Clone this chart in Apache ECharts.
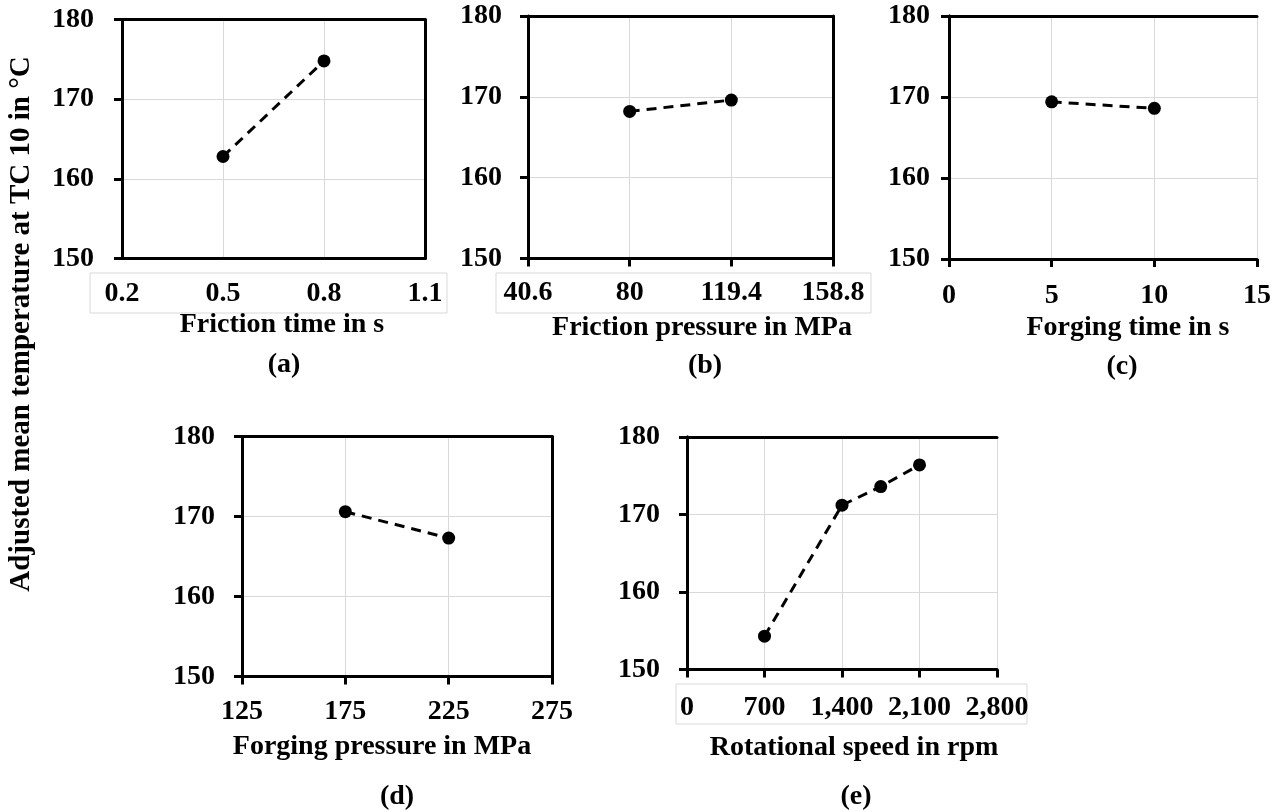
<!DOCTYPE html>
<html><head><meta charset="utf-8">
<script src="https://cdn.jsdelivr.net/npm/echarts@6/dist/echarts.min.js"></script>
<style>html,body{margin:0;padding:0;background:#fff}#c{width:1280px;height:812px}</style>
</head><body><div id="c"></div>
<script>
// ---- data ----
const frictionTimeTicks = ['0.2', '0.5', '0.8', '1.1'];
const frictionTime = ['0.5', '0.8'];
const tempA = [162.8, 174.8];

const frictionPressureTicks = ['40.6', '80', '119.4', '158.8'];
const frictionPressure = ['80', '119.4'];
const tempB = [168.2, 169.6];

const forgingTime = [5, 10];
const tempC = [169.4, 168.6];

const forgingPressureTicks = ['125', '175', '225', '275'];
const forgingPressure = ['175', '225'];
const tempD = [170.6, 167.3];

const rotSpeed = [700, 1400, 1750, 2100];
const tempE = [154.3, 171.2, 173.6, 176.4];

const xTitles = ['Friction time in s', 'Friction pressure in MPa', 'Forging time in s', 'Forging pressure in MPa', 'Rotational speed in rpm'];
const panelTags = ['(a)', '(b)', '(c)', '(d)', '(e)'];
const yTitle = 'Adjusted mean temperature at TC 10 in \u00B0C';

// ---- styling ----
const FF = '"Liberation Serif", "Times New Roman", serif';
const labelStyle = { color: '#000', fontFamily: FF, fontWeight: 'bold', fontSize: 28 };
const black3 = { color: '#000', width: 3 };
const gridLine = { show: true, lineStyle: { color: '#d9d9d9', width: 1 } };

const grids = [
  { left: 122, top: 19.5, width: 303, height: 239 },
  { left: 528, top: 16, width: 305, height: 242.5 },
  { left: 949, top: 16, width: 308, height: 243 },
  { left: 242, top: 436.5, width: 310, height: 240 },
  { left: 687, top: 437, width: 310, height: 232.5 }
].map(g => Object.assign({ show: false, outerBoundsMode: 'none', containLabel: false }, g));

const yMargins = [28, 26, 19, 27, 27];
const yAxes = [];
yMargins.forEach((m, i) => {
  yAxes.push({
    type: 'value', gridIndex: i, position: 'left', min: 150, max: 180, interval: 10,
    axisLine: { show: true, lineStyle: black3 },
    axisTick: { show: true, inside: false, length: 8, lineStyle: black3 },
    axisLabel: Object.assign({ margin: m }, labelStyle),
    splitLine: gridLine, z: 3
  });
});
// frame (right side)
yMargins.forEach((m, i) => {
  yAxes.push({
    type: 'value', gridIndex: i, position: 'right', min: 150, max: 180, interval: 10,
    axisLine: { show: true, lineStyle: black3 },
    axisTick: { show: false }, axisLabel: { show: false }, splitLine: { show: false }, z: 3
  });
});

function catAxis(i, ticks, showTick, margin) {
  return {
    type: 'category', gridIndex: i, position: 'bottom', data: ticks, boundaryGap: false,
    axisLine: { show: true, lineStyle: black3 },
    axisTick: { show: showTick, inside: false, length: 8, lineStyle: black3 },
    axisLabel: Object.assign({ margin: margin, interval: 0 }, labelStyle),
    splitLine: gridLine, z: 3
  };
}
const xAxes = [
  catAxis(0, frictionTimeTicks, false, 21),
  catAxis(1, frictionPressureTicks, true, 20),
  {
    type: 'value', gridIndex: 2, position: 'bottom', min: 0, max: 15, interval: 5,
    axisLine: { show: true, lineStyle: black3 },
    axisTick: { show: true, inside: false, length: 8, lineStyle: black3 },
    axisLabel: Object.assign({ margin: 23 }, labelStyle),
    splitLine: gridLine, z: 3
  },
  catAxis(3, forgingPressureTicks, true, 21),
  {
    type: 'value', gridIndex: 4, position: 'bottom', min: 0, max: 2800, interval: 700,
    axisLine: { show: true, lineStyle: black3 },
    axisTick: { show: true, inside: false, length: 8, lineStyle: black3 },
    axisLabel: Object.assign({ margin: 24, formatter: v => v.toLocaleString('en-US') }, labelStyle),
    splitLine: gridLine, z: 3
  }
];
// frame (top side)
for (let i = 0; i < 5; i++) {
  xAxes.push({
    type: 'value', gridIndex: i, position: 'top', min: 0, max: 1,
    axisLine: { show: true, onZero: false, lineStyle: black3 },
    axisTick: { show: false }, axisLabel: { show: false }, splitLine: { show: false }, z: 3
  });
}

function lineSeries(i, xs, ys) {
  return {
    type: 'line', xAxisIndex: i, yAxisIndex: i,
    data: xs.map((x, k) => [x, ys[k]]),
    symbol: 'circle', symbolSize: 13,
    itemStyle: { color: '#000' },
    lineStyle: { color: '#000', width: 3, type: [10, 7] },
    z: 5
  };
}
const series = [
  lineSeries(0, frictionTime, tempA),
  lineSeries(1, frictionPressure, tempB),
  lineSeries(2, forgingTime, tempC),
  lineSeries(3, forgingPressure, tempD),
  lineSeries(4, rotSpeed, tempE)
];

const titlePos = [[282, 325], [702, 328], [1128, 328], [382, 747], [854, 748]];
const tagPos = [[284, 365], [705, 366], [1122, 367], [397, 797], [856, 797]];
function txt(t, x, y, size, rot) {
  return {
    type: 'text', x: x, y: y, rotation: rot || 0,
    style: { text: t, fill: '#000', font: 'bold ' + size + 'px ' + FF, textAlign: 'center', textVerticalAlign: 'middle' }
  };
}
const boxes = [[90, 273, 357, 40], [496, 273, 375, 40], [676, 684, 351, 40]].map(b => ({
  type: 'rect', shape: { x: b[0], y: b[1], width: b[2], height: b[3] },
  style: { fill: 'transparent', stroke: '#d9d9d9', lineWidth: 1 }, silent: true
}));
const graphics = boxes
  .concat(xTitles.map((t, i) => txt(t, titlePos[i][0], titlePos[i][1], 28)))
  .concat(panelTags.map((t, i) => txt(t, tagPos[i][0], tagPos[i][1], 28)))
  .concat([txt(yTitle, 22, 324, 29, Math.PI / 2)]);

const chart = echarts.init(document.getElementById('c'), null, { renderer: 'canvas' });
chart.setOption({
  animation: false,
  backgroundColor: '#fff',
  grid: grids,
  xAxis: xAxes,
  yAxis: yAxes,
  series: series,
  graphic: { elements: graphics }
});
</script>
</body></html>
